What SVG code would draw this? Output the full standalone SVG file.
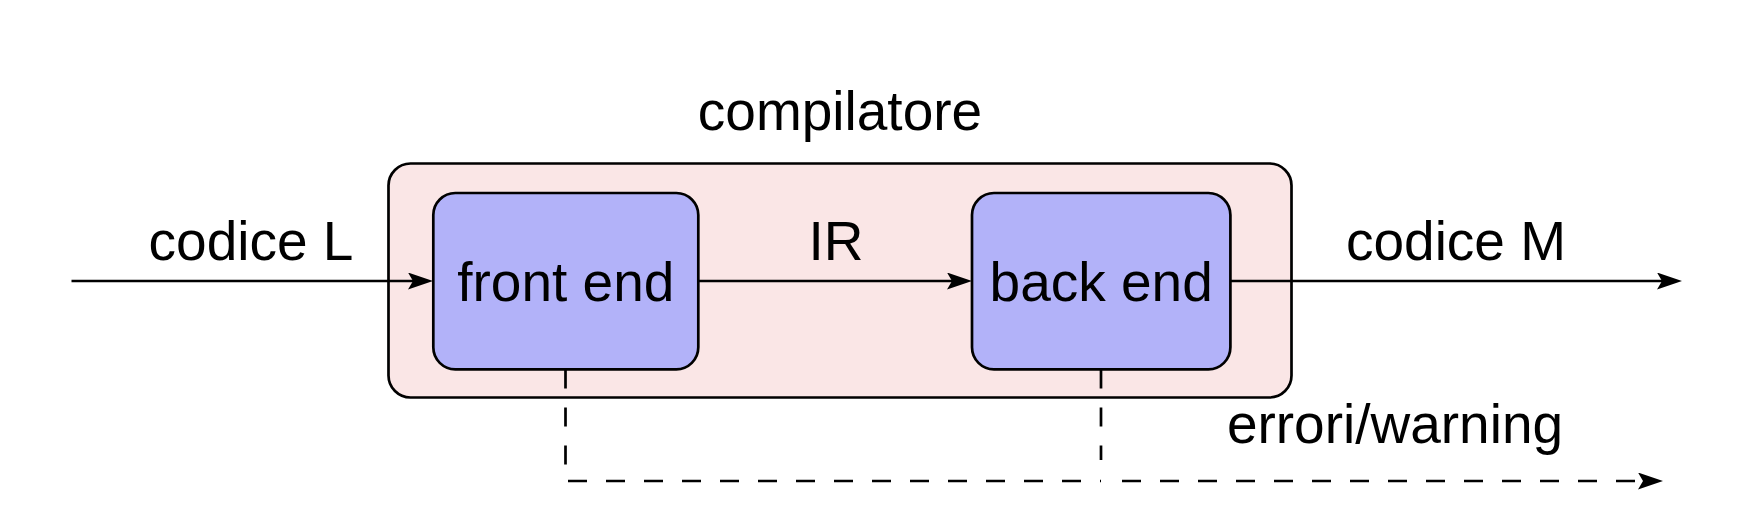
<svg xmlns="http://www.w3.org/2000/svg" width="1754" height="520" viewBox="0 0 1754 520">
  <style>
    .lbl { font-family: "Liberation Sans", Arial, sans-serif; font-size: 55px; fill: #000; text-anchor: middle; }
    .outer { fill: #FAE6E6; stroke: #000; stroke-width: 2.7; }
    .inner { fill: #B2B2F9; stroke: #000; stroke-width: 2.7; }
    .conn { fill: none; stroke: #000; stroke-width: 2.7; }
    .dash { stroke-dasharray: 19 19; }
  </style>
  <defs>
    <marker id="stealth" viewBox="0 0 25 17" refX="19" refY="8.5" markerWidth="25" markerHeight="17" markerUnits="userSpaceOnUse" orient="auto">
      <path d="M25 8.5 L0 0 L5 8.5 L0 17 Z" fill="#000" stroke="none"/>
    </marker>
  </defs>
  <rect width="1754" height="520" fill="#fff"/>

  <g id="compilatore">
    <rect class="outer" x="388.5" y="163.5" width="903" height="234" rx="22" ry="22"/>
    <text class="lbl" x="840" y="130">compilatore</text>
  </g>

  <g id="connectors">
    <path class="conn" d="M71.5 281 H427" marker-end="url(#stealth)"/>
    <path class="conn" d="M698.3 281 H966" marker-end="url(#stealth)"/>
    <path class="conn" d="M1230.4 281 H1676" marker-end="url(#stealth)"/>
    <path class="conn dash" d="M565.5 369.5 V481 H1101"/>
    <path class="conn dash" d="M1101 369.5 V460"/>
    <path class="conn dash" d="M1122 481 H1657" marker-end="url(#stealth)"/>
    <text class="lbl" x="251" y="260">codice L</text>
    <text class="lbl" x="836" y="260">IR</text>
    <text class="lbl" x="1456" y="260">codice M</text>
    <text class="lbl" x="1395" y="443">errori/warning</text>
  </g>

  <g id="frontend">
    <rect class="inner" x="433.3" y="193" width="265" height="176.3" rx="22" ry="22"/>
    <text class="lbl" x="565.8" y="300.5">front end</text>
  </g>

  <g id="backend">
    <rect class="inner" x="972" y="193" width="258.4" height="176.3" rx="22" ry="22"/>
    <text class="lbl" x="1101.2" y="300.5">back end</text>
  </g>
</svg>
